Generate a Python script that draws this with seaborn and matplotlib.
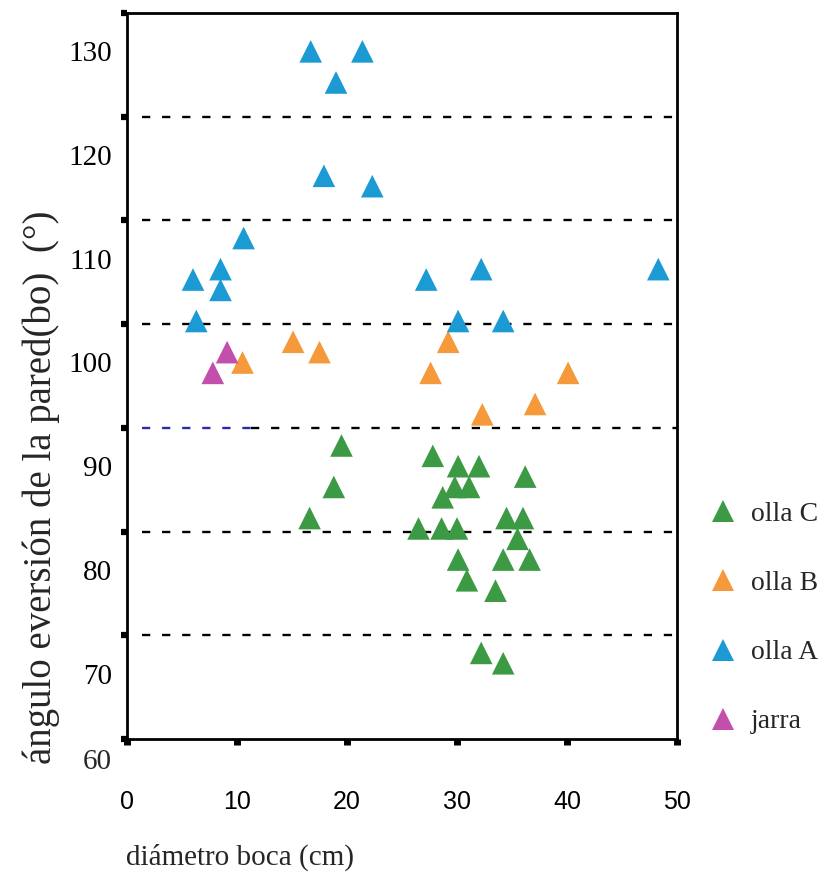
import matplotlib
matplotlib.use("Agg")
import matplotlib.pyplot as plt
from matplotlib.lines import Line2D
from matplotlib.ticker import FixedLocator
import pandas as pd
import seaborn as sns

# --- data: mouth diameter (cm) vs. wall eversion angle (degrees) ---
olla_a_x = [16.7, 21.4, 19.0, 17.9, 22.3, 10.6, 6.0, 8.5, 8.5, 6.3, 27.2, 32.2, 30.1, 34.2, 48.3]
olla_a_y = [130, 130, 127, 118, 117, 112, 108, 109, 107, 104, 108, 109, 104, 104, 109]

olla_b_x = [10.5, 15.1, 17.5, 29.2, 27.6, 40.1, 37.1, 32.3]
olla_b_y = [100, 102, 101, 102, 99, 99, 96, 95]

olla_c_x = [19.5, 18.8, 16.6, 26.5, 27.8, 30.1, 32.0, 36.2, 29.8, 31.1, 28.7, 28.6,
            30.0, 34.5, 36.0, 35.5, 30.1, 34.2, 36.6, 30.9, 33.5, 32.2, 34.2]
olla_c_y = [92, 88, 85, 84, 91, 90, 90, 89, 88, 88, 87, 84,
            84, 85, 85, 83, 81, 81, 81, 79, 78, 72, 71]

jarra_x = [9.1, 7.8]
jarra_y = [101, 99]

group_names = ["olla C", "olla B", "olla A", "jarra"]
group_colors = ["#3d9a44", "#f5993a", "#1c9ad4", "#c24fac"]

x_ticks = [0, 10, 20, 30, 40, 50]
y_tick_values = [70, 80, 90, 100, 110, 120, 130]
guide_levels = [63.7, 73.7, 83.7, 93.7, 103.7, 113.7, 123.7, 133.7]

df = pd.concat([
    pd.DataFrame({"diametro": olla_c_x, "angulo": olla_c_y, "tipo": "olla C"}),
    pd.DataFrame({"diametro": olla_b_x, "angulo": olla_b_y, "tipo": "olla B"}),
    pd.DataFrame({"diametro": olla_a_x, "angulo": olla_a_y, "tipo": "olla A"}),
    pd.DataFrame({"diametro": jarra_x, "angulo": jarra_y, "tipo": "jarra"}),
], ignore_index=True)
palette = dict(zip(group_names, group_colors))

sns.set_theme(style="white")
plt.rcParams["font.family"] = ["Liberation Serif", "DejaVu Serif"]

fig = plt.figure(figsize=(8.22, 8.83), dpi=100)
ax = fig.add_axes([0.1545, 0.1631, 0.6691, 0.8222])

# dashed reference lines
dash = (0, (3.5, 5.0))
for lvl in guide_levels[1:-1]:
    if lvl == 93.7:
        ax.hlines(lvl, 1.4, 11.3, colors="#2b2ba6", lw=1.7, linestyles=dash, zorder=1)
        ax.hlines(lvl, 11.3, 50, colors="black", lw=1.7, linestyles=dash, zorder=1)
    else:
        ax.hlines(lvl, 1.4, 50, colors="black", lw=1.7, linestyles=dash, zorder=1)

sns.scatterplot(data=df, x="diametro", y="angulo", hue="tipo", hue_order=group_names,
                palette=palette, marker="^", s=265, linewidth=0, legend=False,
                ax=ax, zorder=3)

ax.set_xlim(0, 50)
ax.set_ylim(guide_levels[0], guide_levels[-1])

for sp in ax.spines.values():
    sp.set_color("black")
    sp.set_linewidth(2.0)

# x axis: square tick marks, sans-serif labels
ax.set_xticks(x_ticks)
ax.set_xticklabels([str(v) for v in x_ticks], fontfamily="Liberation Sans", fontsize=18)
ax.tick_params(axis="x", which="major", bottom=True, direction="out", length=4,
               width=5, color="black", pad=33, labelcolor="black")

# y axis: square marks on the guide levels, labels set between them
ax.set_yticks(y_tick_values)
ax.set_yticklabels([str(v) for v in y_tick_values], fontsize=21)
ax.tick_params(axis="y", which="major", left=True, length=0, pad=11, labelcolor="black")
ax.yaxis.set_minor_locator(FixedLocator(guide_levels))
ax.tick_params(axis="y", which="minor", left=True, direction="out", length=4.5,
               width=4.5, color="black")
ax.text(-0.0273, 61.5, "60", transform=ax.get_yaxis_transform(), ha="right",
        va="center", fontsize=21, clip_on=False)

ax.set_xlabel("diámetro boca (cm)", fontsize=21)
ax.xaxis.label.set_va("center")
ax.xaxis.set_label_coords(0.2055, -0.1625)
ax.set_ylabel("ángulo eversión de la pared(bo)  (°)", fontsize=28)
ax.yaxis.label.set_va("center")
ax.yaxis.set_label_coords(-0.156, 0.347)

handles = [Line2D([], [], marker="^", ls="", color=c, markersize=16, mew=0)
           for c in group_colors]
fig.legend(handles, group_names, loc="center left", bbox_to_anchor=(0.8625, 0.3001),
           bbox_transform=fig.transFigure, frameon=False, fontsize=20,
           handlelength=1.0, handletextpad=0.5, labelspacing=1.57,
           borderpad=0, borderaxespad=0)

fig.savefig("out.png", dpi=100)
